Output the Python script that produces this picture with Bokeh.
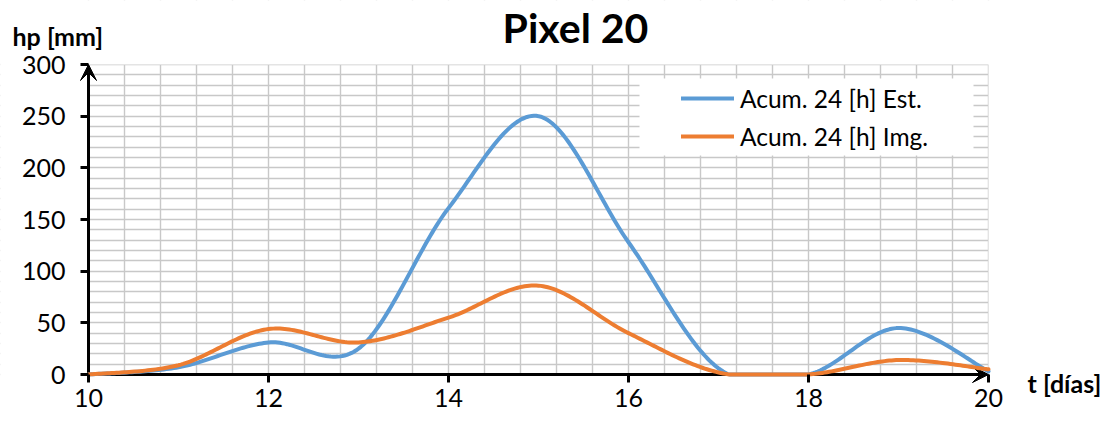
import numpy as np
from bokeh.plotting import figure
from bokeh.models import (Range1d, FixedTicker, Arrow, VeeHead, Label, Legend,
                          LegendItem, BoxAnnotation)
from bokeh.embed import file_html
from bokeh.resources import INLINE

# ---- data ----
days = [10, 11, 12, 13, 14, 15, 16, 17, 18, 19, 20]
est = [0, 7, 31, 25, 161, 250, 128, 6, 0, 45, 3]
img = [0, 9, 44, 31, 55, 86, 40, 2, 0, 14, 5]
series_names = ["Acum. 24 [h] Est.", "Acum. 24 [h] Img."]
x_ticks = [10, 12, 14, 16, 18, 20]
y_ticks = [0, 50, 100, 150, 200, 250, 300]
title_text = "Pixel 20"
x_title = "t [días]"
y_title = "hp [mm]"

BLUE = "#5B9BD5"
ORANGE = "#ED7D31"
FONT = "Lato"
GRID = "#c8c8c8"

X0, X1, Y0, Y1 = 10, 20, 0, 300          # plot-area data limits


def smooth(xs, ys, n=40):
    """Excel-style smoothed line: cubic Bezier segments with Catmull-Rom controls."""
    P = np.column_stack([np.asarray(xs, float), np.asarray(ys, float)])
    m = len(P)
    out = []
    t = np.linspace(0, 1, n)[:, None]
    for i in range(m - 1):
        p0 = P[i]
        p3 = P[i + 1]
        pm = P[i - 1] if i > 0 else P[i]
        pp = P[i + 2] if i + 2 < m else P[i + 1]
        c1 = p0 + (p3 - pm) / 6.0
        c2 = p3 - (pp - p0) / 6.0
        seg = ((1 - t) ** 3) * p0 + 3 * ((1 - t) ** 2) * t * c1 + 3 * (1 - t) * t ** 2 * c2 + t ** 3 * p3
        out.append(seg if i == 0 else seg[1:])
    S = np.vstack(out)
    # the plot area clips the curve at the axis minimum, as the spreadsheet does
    return S[:, 0], np.clip(S[:, 1], Y0, Y1)


# canvas & plot-area geometry (pixels)
W, H = 1109, 423
PL, PR, PT, PB = 88, 988, 64, 374
sx = (X1 - X0) / (PR - PL)
sy = (Y1 - Y0) / (PB - PT)
xr = Range1d(X0 - PL * sx, X1 + (W - PR) * sx)
yr = Range1d(Y0 - (H - PB) * sy, Y1 + PT * sy)

p = figure(width=W, height=H, x_range=xr, y_range=yr, output_backend="svg",
           toolbar_location=None, min_border=0)
try:
    p.title_location = None
except Exception:
    pass
p.outline_line_color = None
p.background_fill_color = "white"
p.border_fill_color = "white"

# grids
p.xgrid.ticker = FixedTicker(ticks=[round(X0 + 0.4 * k, 1) for k in range(26)])
p.ygrid.ticker = FixedTicker(ticks=list(range(Y0, Y1 + 1, 10)))
for g in (p.xgrid, p.ygrid):
    g.grid_line_color = GRID
    g.grid_line_width = 1.4

# hide grid outside the plot area
for kw in (dict(right=X0), dict(left=X1), dict(top=Y0), dict(bottom=Y1)):
    p.add_layout(BoxAnnotation(fill_color="white", fill_alpha=1, line_color=None,
                               level="underlay", **kw))

# axes at fixed positions
p.xaxis.fixed_location = Y0
p.yaxis.fixed_location = X0
p.xaxis.ticker = FixedTicker(ticks=x_ticks)
p.yaxis.ticker = FixedTicker(ticks=y_ticks)
for ax in (p.xaxis, p.yaxis):
    ax.axis_line_color = None
    ax.major_tick_line_color = "black"
    ax.major_tick_line_width = 3
    ax.major_tick_out = 8
    ax.major_tick_in = 0
    ax.minor_tick_line_color = None
    ax.major_label_text_font = FONT
    ax.major_label_text_font_size = "25px"
    ax.major_label_text_color = "black"
p.xaxis.major_label_standoff = 6
p.yaxis.major_label_standoff = 15

# axis lines with arrows
head = dict(size=16, fill_color="black", line_color="black", line_width=1)
p.add_layout(Arrow(x_start=X0, y_start=Y0, x_end=X1, y_end=Y0, line_width=3,
                   line_color="black", end=VeeHead(**head), level="underlay"))
p.add_layout(Arrow(x_start=X0, y_start=Y0, x_end=X0, y_end=Y1, line_width=3,
                   line_color="black", end=VeeHead(**head), level="underlay"))

# lines
bx, by = smooth(days, est)
ox, oy = smooth(days, img)
r1 = p.line(bx, by, line_color=BLUE, line_width=4, line_join="round", line_cap="round")
r2 = p.line(ox, oy, line_color=ORANGE, line_width=4, line_join="round", line_cap="round")

# legend background and legend
p.add_layout(BoxAnnotation(left=X0 + (639 - PL) * sx, right=X0 + (973 - PL) * sx,
                           top=Y0 + (PB - 78) * sy, bottom=Y0 + (PB - 155) * sy,
                           fill_color="white", fill_alpha=1, line_color=None))
legend = Legend(items=[LegendItem(label=series_names[0], renderers=[r1]),
                       LegendItem(label=series_names[1], renderers=[r2])],
                location=(681, H - 151), padding=5, spacing=8, margin=0,
                glyph_width=53, glyph_height=30, label_height=30, label_standoff=6,
                label_text_font=FONT, label_text_font_size="24.5px", label_text_color="black",
                border_line_color=None, background_fill_color="white", background_fill_alpha=1)
p.add_layout(legend)

# texts (screen units: from bottom-left of the canvas-wide frame)
p.add_layout(Label(x=575, y=H - 27, x_units="screen", y_units="screen", text=title_text,
                   text_font=FONT, text_font_size="41px", text_font_style="bold",
                   text_align="center", text_baseline="alphabetic", text_color="black"))
p.add_layout(Label(x=12, y=H - 35, x_units="screen", y_units="screen", text=y_title,
                   text_font=FONT, text_font_size="25px", text_font_style="bold",
                   text_align="left", text_baseline="alphabetic", text_color="black"))
p.add_layout(Label(x=1027, y=H - 382, x_units="screen", y_units="screen", text=x_title,
                   text_font=FONT, text_font_size="25px", text_font_style="bold",
                   text_align="left", text_baseline="alphabetic", text_color="black"))

open("out.html", "w").write(file_html(p, INLINE))
